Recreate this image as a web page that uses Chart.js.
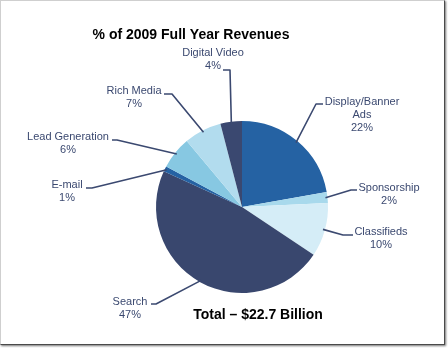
<!DOCTYPE html>
<html>
<head>
<meta charset="utf-8">
<script src="https://cdn.jsdelivr.net/npm/chart.js@4/dist/chart.umd.min.js"></script>
<style>
  html, body { margin: 0; padding: 0; background: #ffffff; }
  #wrap { position: relative; width: 448px; height: 348px; overflow: hidden; }
  #frame {
    position: absolute; left: 0; top: 0; width: 443px; height: 343px;
    background: #ffffff;
    border-left: 1px solid #cfcfcf; border-top: 1px solid #cfcfcf;
    border-right: 1px solid #4a4a4a; border-bottom: 1px solid #4a4a4a;
    box-shadow: 1px 1px 2px rgba(0,0,0,0.55);
  }
  #chart { position: absolute; left: 0; top: 0; }
</style>
</head>
<body>
<div id="wrap">
  <div id="frame"></div>
  <canvas id="chart" width="448" height="348"></canvas>
</div>
<script>
// Online ad revenue share by format, full year 2009 (percent)
const categories = [
  ['Display/Banner', 'Ads'],
  ['Sponsorship'],
  ['Classifieds'],
  ['Search'],
  ['E-mail'],
  ['Lead Generation'],
  ['Rich Media'],
  ['Digital Video']
];
const shares = [22, 2, 10, 47, 1, 6, 7, 4];
const sliceColors = ['#2562a3', '#a8d9ec', '#d5edf7', '#39476e', '#2562a3', '#87c8e2', '#b2dcee', '#3a4870'];
const chartTitle = '% of 2009 Full Year Revenues';
const totalNote = 'Total \u2013 $22.7 Billion';

// Callout placement for each slice label: text centre, first baseline row, elbow and tail of the leader
const callouts = [
  { tx: 362, ty: 102, elbow: [316, 104], tail: [323, 104] },
  { tx: 389, ty: 188, elbow: [351, 190], tail: [357, 190] },
  { tx: 381, ty: 232, elbow: [343, 235], tail: [353, 235] },
  { tx: 130, ty: 302, elbow: [156, 304], tail: [151, 304] },
  { tx: 67,  ty: 185, elbow: [92, 188],  tail: [86, 188] },
  { tx: 68,  ty: 137, elbow: [117, 140], tail: [112, 140] },
  { tx: 134, ty: 91,  elbow: [172, 94],  tail: [164, 94] },
  { tx: 213, ty: 53,  elbow: [230, 70],  tail: [223, 70] }
];

const labelColor = '#3b4970';
const lineHeight = 13;

const calloutPlugin = {
  id: 'callouts',
  afterDatasetsDraw(chart) {
    const ctx = chart.ctx;
    const arcs = chart.getDatasetMeta(0).data;
    ctx.save();
    ctx.strokeStyle = labelColor;
    ctx.lineWidth = 1.6;
    ctx.lineJoin = 'round';
    arcs.forEach((arc, i) => {
      const p = arc.getProps(['x', 'y', 'startAngle', 'endAngle', 'outerRadius'], true);
      const mid = (p.startAngle + p.endAngle) / 2;
      const r = p.outerRadius - 2;
      const c = callouts[i];
      ctx.beginPath();
      ctx.moveTo(p.x + Math.cos(mid) * r, p.y + Math.sin(mid) * r);
      ctx.lineTo(c.elbow[0], c.elbow[1]);
      ctx.lineTo(c.tail[0], c.tail[1]);
      ctx.stroke();
    });
    ctx.fillStyle = labelColor;
    ctx.font = '11px "Liberation Sans", Arial, sans-serif';
    ctx.textAlign = 'center';
    ctx.textBaseline = 'middle';
    categories.forEach((lines, i) => {
      const c = callouts[i];
      const all = lines.concat([shares[i] + '%']);
      all.forEach((t, k) => ctx.fillText(t, c.tx, c.ty + k * lineHeight));
    });
    ctx.fillStyle = '#000000';
    ctx.font = 'bold 14px "Liberation Sans", Arial, sans-serif';
    ctx.fillText(chartTitle, 191, 35);
    ctx.fillText(totalNote, 258, 315);
    ctx.restore();
  }
};

new Chart(document.getElementById('chart'), {
  type: 'pie',
  data: {
    labels: categories.map(l => l.join(' ')),
    datasets: [{
      data: shares,
      backgroundColor: sliceColors,
      borderWidth: 0
    }]
  },
  options: {
    responsive: false,
    devicePixelRatio: 1,
    animation: false,
    layout: { padding: { top: 121, bottom: 55, left: 156, right: 120 } },
    plugins: {
      legend: { display: false },
      tooltip: { enabled: false },
      title: { display: false }
    }
  },
  plugins: [calloutPlugin]
});
</script>
</body>
</html>
